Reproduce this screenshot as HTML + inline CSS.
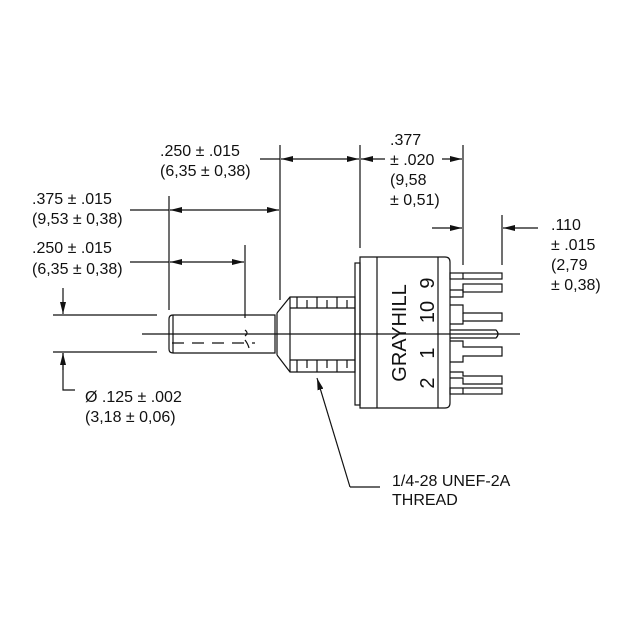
<!DOCTYPE html>
<html><head><meta charset="utf-8"><style>
html,body{margin:0;padding:0;background:#fff;}
text{font-family:"Liberation Sans",Arial,sans-serif;font-size:16px;fill:#111;}
</style></head><body>
<svg width="636" height="639" viewBox="0 0 636 639" xmlns="http://www.w3.org/2000/svg">
<defs>
<marker id="a" viewBox="0 0 12 6" refX="12" refY="3" markerWidth="12" markerHeight="6" orient="auto" markerUnits="userSpaceOnUse"><path d="M0,0 L12,3 L0,6 Z" fill="#111"/></marker>
</defs>
<g stroke="#111" stroke-width="1.2" fill="none">
<line x1="169" y1="196" x2="169" y2="310"/>
<line x1="280" y1="145" x2="280" y2="300"/>
<line x1="360" y1="145" x2="360" y2="248"/>
<line x1="463" y1="145" x2="463" y2="265"/>
<line x1="502" y1="215" x2="502" y2="265"/>
<line x1="245" y1="245" x2="245" y2="318"/>
<line x1="260" y1="159" x2="280" y2="159"/>
<line x1="320" y1="159" x2="281" y2="159" marker-end="url(#a)"/>
<line x1="320" y1="159" x2="359" y2="159" marker-end="url(#a)"/>
<line x1="385" y1="159" x2="361" y2="159" marker-end="url(#a)"/>
<line x1="442" y1="159" x2="462" y2="159" marker-end="url(#a)"/>
<line x1="432" y1="228" x2="462" y2="228" marker-end="url(#a)"/>
<line x1="538" y1="228" x2="503" y2="228" marker-end="url(#a)"/>
<line x1="130" y1="210" x2="169" y2="210"/>
<line x1="225" y1="210" x2="170" y2="210" marker-end="url(#a)"/>
<line x1="225" y1="210" x2="279" y2="210" marker-end="url(#a)"/>
<line x1="130" y1="262" x2="169" y2="262"/>
<line x1="207" y1="262" x2="170" y2="262" marker-end="url(#a)"/>
<line x1="207" y1="262" x2="244" y2="262" marker-end="url(#a)"/>
<line x1="53" y1="315" x2="157" y2="315"/>
<line x1="53" y1="352" x2="157" y2="352"/>
<line x1="63" y1="288" x2="63" y2="314" marker-end="url(#a)"/>
<polyline points="75,390 63,390 63,353"/>
<line x1="63" y1="370" x2="63" y2="353" marker-end="url(#a)"/>
<line x1="142" y1="334" x2="520" y2="334"/>
<path d="M173,315 H275 V353 H173 Q169,353 169,349 V319 Q169,315 173,315 Z"/>
<line x1="173" y1="315" x2="173" y2="353"/>
<line x1="172" y1="343" x2="255" y2="343" stroke-dasharray="12,8"/>
<path d="M245,330 q4,3 0,6 M245,340 q3,4 4,8"/>
<path d="M277,313 L290,297 H355 V372 H290 L277,355"/>
<line x1="290" y1="297" x2="290" y2="372"/>
<line x1="277" y1="313" x2="277" y2="355"/>
<line x1="290" y1="308" x2="355" y2="308"/>
<line x1="290" y1="360" x2="355" y2="360"/>
<path d="M297,297V308M307,300V308M317,297V308M327,300V308M337,297V308M347,300V308"/>
<path d="M297,360V372M307,360V368M317,360V372M327,360V368M337,360V372M347,360V368"/>
<rect x="355" y="263" width="5" height="142"/>
<path d="M360,257 H445 Q450,257 450,262 V403 Q450,408 445,408 H360 Z"/>
<line x1="377" y1="257" x2="377" y2="408"/>
<line x1="438" y1="257" x2="438" y2="408"/>
<rect x="450" y="273" width="52" height="6"/><line x1="463" y1="273" x2="463" y2="279"/>
<rect x="463" y="284" width="39" height="8"/><polyline points="450,290 463,290 463,297 450,297"/>
<polyline points="450,305 463,305 463,313 502,313 502,321 463,321 463,324 450,324"/>
<line x1="463" y1="321" x2="463" y2="313"/>
<path d="M450,330 H496 Q500,334 496,338 H450"/>
<polyline points="450,341 463,341 463,347 502,347 502,356 463,356 463,362 450,362"/>
<polyline points="450,372 463,372 463,376 502,376 502,384 463,384 463,378 450,378"/>
<rect x="450" y="388" width="52" height="6"/><line x1="463" y1="388" x2="463" y2="394"/>
<polyline points="350,487 380,487"/>
<line x1="350" y1="487" x2="317" y2="378" marker-end="url(#a)"/>
</g>
<text x="32" y="204">.375 ± .015</text>
<text x="32" y="224">(9,53 ± 0,38)</text>
<text x="32" y="253">.250 ± .015</text>
<text x="32" y="274">(6,35 ± 0,38)</text>
<text x="160" y="156">.250 ± .015</text>
<text x="160" y="176">(6,35 ± 0,38)</text>
<text x="390" y="145">.377</text>
<text x="390" y="165">± .020</text>
<text x="390" y="185">(9,58</text>
<text x="390" y="205">± 0,51)</text>
<text x="551" y="230">.110</text>
<text x="551" y="250">± .015</text>
<text x="551" y="270">(2,79</text>
<text x="551" y="290">± 0,38)</text>
<text x="85" y="402">Ø .125 ± .002</text>
<text x="85" y="422">(3,18 ± 0,06)</text>
<text x="392" y="486">1/4-28 UNEF-2A</text>
<text x="392" y="505">THREAD</text>
<g transform="translate(406,333) rotate(-90)">
<text x="0" y="0" text-anchor="middle" style="font-size:20px">GRAYHILL</text>
</g>
<g transform="translate(434,334) rotate(-90)">
<text x="-49" y="0" text-anchor="middle" style="font-size:20px">2</text>
<text x="-19" y="0" text-anchor="middle" style="font-size:20px">1</text>
<text x="22" y="0" text-anchor="middle" style="font-size:20px">10</text>
<text x="51" y="0" text-anchor="middle" style="font-size:20px">9</text>
</g>
</svg>
</body></html>
